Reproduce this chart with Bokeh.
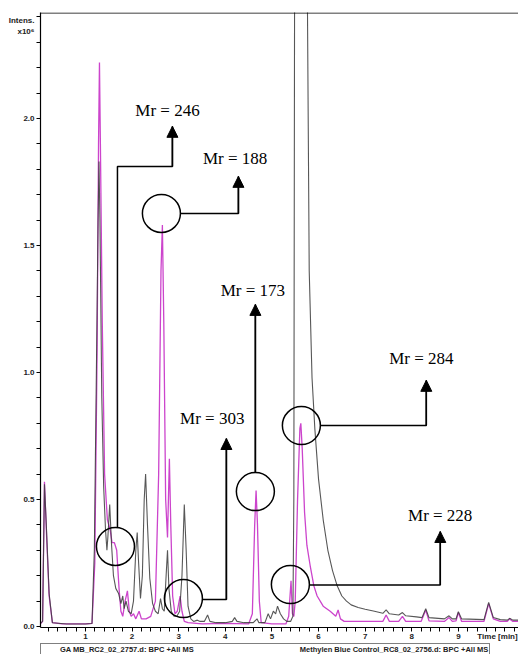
from bokeh.plotting import figure
from bokeh.layouts import column
from bokeh.models import (Range1d, FixedTicker, NumeralTickFormatter, Arrow, NormalHead, Span,
                          Legend, LegendItem)
from bokeh.core.properties import value
from bokeh.embed import file_html
from bokeh.resources import INLINE

# ---------------- data ----------------
# GA MB_RC2_02_2757.d : BPC +All MS  (magenta)
ga_t = [0.03, 0.08, 0.12, 0.16, 0.22, 0.29, 0.5, 1.0, 1.14, 1.2, 1.25, 1.28, 1.30, 1.32, 1.36, 1.41,
        1.47, 1.53, 1.57, 1.62, 1.67, 1.72, 1.76, 1.8, 1.85, 1.9, 1.94, 1.98, 2.03, 2.08, 2.15, 2.2,
        2.3, 2.4, 2.5, 2.57, 2.62, 2.65, 2.68, 2.72, 2.76, 2.8, 2.83, 2.87, 2.92, 2.97, 3.03, 3.07,
        3.12, 3.2, 3.5, 4.0, 4.5, 4.58, 4.63, 4.66, 4.69, 4.73, 4.77, 5.0, 5.3, 5.36, 5.41, 5.44,
        5.47, 5.5, 5.55, 5.6, 5.62, 5.65, 5.7, 5.75, 5.82, 5.9, 5.97, 6.1, 6.25, 6.37, 6.42, 6.47,
        6.55, 7.0, 7.38, 7.45, 7.52, 7.72, 7.8, 7.87, 8.2, 8.3, 8.37, 8.7, 8.8, 8.87, 8.95, 9.0,
        9.07, 9.55, 9.65, 9.75, 9.9, 10.05, 10.1, 10.17, 10.28]
ga_i = [0.01, 0.02, 0.57, 0.38, 0.12, 0.015, 0.01, 0.01, 0.012, 0.25, 1.1, 1.9, 2.22, 1.9, 1.2, 0.6,
        0.42, 0.38, 0.33, 0.33, 0.3, 0.15, 0.06, 0.04, 0.1, 0.14, 0.06, 0.04, 0.05, 0.03, 0.06, 0.03,
        0.03, 0.04, 0.1, 0.6, 1.4, 1.58, 1.2, 0.5, 0.35, 0.66, 0.4, 0.12, 0.05, 0.06, 0.12, 0.06,
        0.02, 0.015, 0.01, 0.012, 0.01, 0.05, 0.4, 0.535, 0.4, 0.1, 0.015, 0.01, 0.01, 0.04, 0.18, 0.05,
        0.04, 0.1, 0.5, 0.78, 0.8, 0.7, 0.45, 0.32, 0.24, 0.16, 0.12, 0.08, 0.06, 0.04, 0.065, 0.03,
        0.02, 0.02, 0.02, 0.045, 0.02, 0.02, 0.04, 0.02, 0.02, 0.065, 0.022, 0.02, 0.035, 0.02, 0.022, 0.055,
        0.02, 0.02, 0.09, 0.03, 0.02, 0.02, 0.03, 0.02, 0.02]

# Methylen Blue Control_RC8_02_2756.d : BPC +All MS  (black)
mb_t = [0.03, 0.08, 0.12, 0.16, 0.22, 0.29, 0.6, 1.0, 1.14, 1.19, 1.24, 1.27, 1.29, 1.31, 1.35, 1.39,
        1.43, 1.46, 1.48, 1.52, 1.56, 1.6, 1.65, 1.71, 1.76, 1.8, 1.83, 1.87, 1.92, 1.98, 2.03, 2.08,
        2.11, 2.14, 2.18, 2.22, 2.26, 2.29, 2.33, 2.38, 2.44, 2.5, 2.56, 2.61, 2.65, 2.69, 2.73, 2.76,
        2.79, 2.84, 2.9, 2.96, 3.02, 3.07, 3.12, 3.16, 3.2, 3.26, 3.32, 3.4, 3.46, 3.55, 3.62, 3.67,
        3.8, 4.0, 4.15, 4.2, 4.25, 4.4, 4.6, 4.68, 4.72, 4.85, 4.92, 4.97, 5.03, 5.08, 5.12, 5.18,
        5.25, 5.32, 5.4, 5.45, 5.47, 5.49, 5.55, 5.7, 5.76, 5.8, 5.86, 5.92, 6.0, 6.1, 6.2, 6.3,
        6.4, 6.5, 6.6, 6.7, 6.85, 7.0, 7.2, 7.38, 7.45, 7.52, 7.72, 7.8, 7.87, 8.1, 8.22, 8.3,
        8.37, 8.7, 8.8, 8.87, 8.95, 9.0, 9.07, 9.55, 9.65, 9.75, 9.9, 10.05, 10.1, 10.17, 10.28]
mb_i = [0.012, 0.02, 0.56, 0.40, 0.13, 0.015, 0.01, 0.01, 0.012, 0.3, 1.1, 1.6, 1.83, 1.6, 0.9, 0.55,
        0.38, 0.3, 0.35, 0.48, 0.32, 0.2, 0.15, 0.13, 0.09, 0.12, 0.07, 0.1, 0.06, 0.05, 0.1, 0.3,
        0.37, 0.25, 0.11, 0.2, 0.5, 0.6, 0.4, 0.19, 0.09, 0.06, 0.05, 0.11, 0.07, 0.06, 0.2, 0.3,
        0.15, 0.06, 0.04, 0.04, 0.06, 0.2, 0.48, 0.3, 0.08, 0.03, 0.02, 0.025, 0.02, 0.02, 0.045, 0.02,
        0.015, 0.015, 0.02, 0.035, 0.02, 0.015, 0.015, 0.03, 0.015, 0.015, 0.05, 0.03, 0.06, 0.05, 0.08, 0.05,
        0.03, 0.02, 0.02, 0.04, 0.5, 3.0, 6.0, 5.0, 2.5, 1.4, 0.98, 0.78, 0.58, 0.42, 0.3, 0.22,
        0.16, 0.12, 0.1, 0.085, 0.075, 0.068, 0.06, 0.052, 0.065, 0.05, 0.045, 0.055, 0.042, 0.038, 0.035, 0.07,
        0.035, 0.03, 0.042, 0.03, 0.03, 0.058, 0.03, 0.027, 0.095, 0.035, 0.027, 0.025, 0.032, 0.025, 0.025]

series_names = ["GA MB_RC2_02_2757.d: BPC +All MS",
                "Methylen Blue Control_RC8_02_2756.d: BPC +All MS"]

x_ticks = [1, 2, 3, 4, 5, 6, 7, 8, 9]
x_title = "Time [min]"
y_ticks = [0.0, 0.5, 1.0, 1.5, 2.0]
y_title = "Intens.\nx10\u2076"

# annotated peaks (retention time, intensity) and their Mr labels
ann_labels = ["Mr = 246", "Mr = 188", "Mr = 303", "Mr = 173", "Mr = 228", "Mr = 284"]
ann_peak_t = [1.643, 2.629, 3.101, 4.645, 5.396, 5.632]
ann_peak_i = [0.315, 1.626, 0.110, 0.531, 0.165, 0.791]
# label positions and leader-line routes (data units)
ann_text_t = [2.76, 4.21, 3.72, 4.59, 8.61, 8.205]
ann_text_i = [2.031, 1.843, 0.819, 1.323, 0.437, 1.055]
lead_xs = [[1.686, 1.686, 2.865, 2.865], [3.036, 4.281, 4.281], [3.508, 4.023, 4.023],
           [4.645, 4.645], [5.80, 8.612, 8.612], [6.039, 8.312, 8.312]]
lead_ys = [[0.39, 1.811, 1.811, 1.969], [1.626, 1.626, 1.772], [0.106, 0.106, 0.740],
           [0.606, 1.268], [0.163, 0.163, 0.374], [0.791, 0.791, 0.969]]

MAGENTA = "#cc44cc"
DARK = "#3a3a3a"
TXT = "#222222"
X0, X1 = 0.035, 10.29
Y0, Y1 = -0.004, 2.417
X_TITLE_AT = 9.84
Y_TITLE_AT = 2.365

p = figure(frame_width=478, frame_height=615, x_range=Range1d(X0, X1), y_range=Range1d(Y0, Y1),
           output_backend="svg", toolbar_location=None,
           min_border_left=40, min_border_right=0, min_border_top=12, min_border_bottom=13)
p.grid.visible = False
p.outline_line_color = None
p.background_fill_color = "white"
p.border_fill_color = "white"

p.line(ga_t, ga_i, line_color=MAGENTA, line_width=1.3)
p.line(mb_t, mb_i, line_color=DARK, line_width=1.1, line_alpha=0.85)

p.add_layout(Span(location=Y1 - 0.002, dimension="width", line_color="black", line_width=1.2))

# axes
for ax in (p.xaxis, p.yaxis):
    ax.axis_line_color = "black"
    ax.axis_line_width = 1.2
    ax.major_tick_line_color = None
    ax.minor_tick_line_color = "black"
    ax.minor_tick_in = 0
    ax.minor_tick_out = 4
    ax.major_tick_in = 0
    ax.major_tick_out = 4
    ax.major_label_text_font = "Liberation Sans"
    ax.major_label_text_font_style = "bold"
    ax.major_label_text_font_size = "8px"
    ax.major_label_text_color = TXT
    ax.major_label_standoff = 2
p.xaxis.major_label_standoff = 0
p.xaxis.ticker = FixedTicker(ticks=x_ticks + [X_TITLE_AT],
                             minor_ticks=[round(0.2 * i, 1) for i in range(1, 52)])
p.yaxis.ticker = FixedTicker(ticks=y_ticks + [Y_TITLE_AT],
                             minor_ticks=[round(0.1 * i, 1) for i in range(0, 25)])
p.yaxis.formatter = NumeralTickFormatter(format="0.0")
p.xaxis.formatter = NumeralTickFormatter(format="0")
p.xaxis.major_label_overrides = {X_TITLE_AT: x_title}
p.yaxis.major_label_overrides = {Y_TITLE_AT: y_title}

# annotations
p.multi_line(lead_xs, lead_ys, line_color="black", line_width=1.5)
for xs, ys in zip(lead_xs, lead_ys):
    p.add_layout(Arrow(end=NormalHead(size=11, fill_color="black", line_color="black"),
                       x_start=xs[-2], y_start=ys[-2], x_end=xs[-1], y_end=ys[-1],
                       line_color="black", line_width=1.5))
p.scatter(ann_peak_t, ann_peak_i, marker="circle", size=38, fill_color=None,
          line_color="black", line_width=1.5)
p.text(ann_text_t, ann_text_i, text=ann_labels, text_font=value("Liberation Serif"),
       text_font_size="17px", text_align="center", text_baseline="middle", text_color="black")

# legend strip below the chart (a thin figure holding the legend)
lg = figure(frame_width=478, frame_height=14, x_range=Range1d(0, 1), y_range=Range1d(0, 1),
            output_backend="svg", toolbar_location=None,
            min_border_left=40, min_border_right=0, min_border_top=0, min_border_bottom=0)
lg.axis.visible = False
lg.grid.visible = False
lg.outline_line_color = None
lg.border_fill_color = "white"
k_ga = lg.line([], [], line_color=MAGENTA, line_width=1.5)
k_mb = lg.line([], [], line_color=DARK, line_width=1.5)
legend = Legend(items=[LegendItem(label=series_names[0], renderers=[k_ga]),
                       LegendItem(label=series_names[1], renderers=[k_mb])],
                orientation="horizontal", location="top_left",
                label_text_font="Liberation Sans", label_text_font_style="bold",
                label_text_font_size="7.5px", label_text_color=TXT,
                glyph_width=15, glyph_height=6, label_height=6, label_standoff=3,
                padding=1, margin=0, spacing=88,
                border_line_color="black", border_line_width=1,
                background_fill_color="white")
lg.add_layout(legend)

layout = column(p, lg, spacing=0)
open("out.html", "w").write(file_html(layout, INLINE))
